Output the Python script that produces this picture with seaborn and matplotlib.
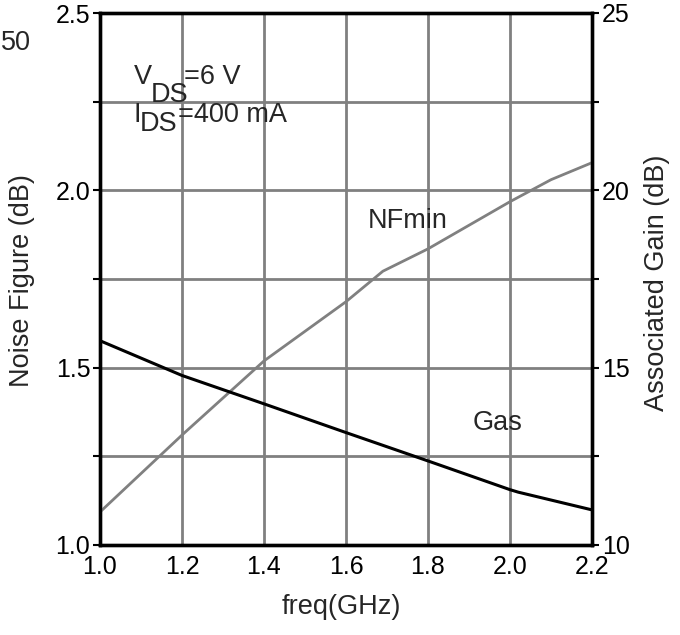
import matplotlib
matplotlib.use("Agg")
import matplotlib.pyplot as plt
import seaborn as sns
import pandas as pd
import numpy as np

sns.set_style("white")
plt.rcParams['font.family'] = ['Liberation Sans', 'DejaVu Sans']

nf_freq = [1.0, 1.2, 1.4, 1.6, 1.69, 1.8, 2.0, 2.10, 2.2]
nf_min = [1.093, 1.31, 1.519, 1.686, 1.772, 1.835, 1.968, 2.030, 2.078]

gas_freq = [1.0, 1.2, 1.4, 1.6, 1.8, 2.0, 2.02, 2.2]
gas = [15.76, 14.78, 13.98, 13.17, 12.37, 11.56, 11.49, 10.99]

x_ticks = [1.0, 1.2, 1.4, 1.6, 1.8, 2.0, 2.2]
nf_ticks = [1.0, 1.5, 2.0, 2.5]
gain_ticks = [10, 15, 20, 25]

FS = 18
FL = 19.5
W, H = 680, 635

fig = plt.figure(figsize=(6.8, 6.35), dpi=100)
ax = fig.add_axes([100/W, 1-545/H, 492/W, 532/H])
ax2 = ax.twinx()

df_nf = pd.DataFrame({"freq": nf_freq, "nf": nf_min})
df_g = pd.DataFrame({"freq": gas_freq, "gain": gas})

ax.set_xlim(1.0, 2.2)
ax.set_ylim(1.0, 2.5)
ax2.set_ylim(10, 25)

ax.set_xticks(x_ticks)
ax.set_yticks(nf_ticks)
ax.set_yticks(np.arange(1.0, 2.51, 0.25), minor=True)
ax.grid(True, which="both", axis="y", color="#808080", lw=2)
ax.grid(True, which="major", axis="x", color="#808080", lw=2)
ax.set_axisbelow(True)

sns.lineplot(data=df_nf, x="freq", y="nf", ax=ax, color="#808080", lw=2, zorder=3)
sns.lineplot(data=df_g, x="freq", y="gain", ax=ax2, color="black", lw=2.2, zorder=3)

ax2.set_yticks(gain_ticks)
ax2.set_yticks(np.arange(10, 25.1, 2.5), minor=True)

for a in (ax, ax2):
    for s in a.spines.values():
        s.set_linewidth(2.4)
        s.set_color("black")
    a.tick_params(which="both", direction="out", length=5, width=1.5,
                  colors="black", labelsize=FS, pad=2)

ax.set_xticklabels([f"{v:.1f}" for v in x_ticks])
ax.set_yticklabels([f"{v:.1f}" for v in nf_ticks])
ax2.set_yticklabels([str(v) for v in gain_ticks])

ax.set_xlabel("")
ax.set_ylabel("")
ax2.set_ylabel("")
fig.text(341/W, 1-607/H, "freq(GHz)", fontsize=FL, ha="center", va="center")
fig.text(22/W, 1-281/H, "Noise Figure (dB)", fontsize=FL, ha="center", va="center", rotation=90)
fig.text(657/W, 1-283/H, "Associated Gain (dB)", fontsize=FL, ha="center", va="center", rotation=90)

ax.text(1.75, 1.914, "NFmin", fontsize=FL, ha="center", va="center")
ax.text(1.97, 1.345, "Gas", fontsize=FL, ha="center", va="center")

def ptxt(x, y, s):
    fig.text(x/W, 1-y/H, s, fontsize=FL, ha="left", va="baseline")

ptxt(134, 84, "V")
ptxt(151, 102, "DS")
ptxt(184, 84, "=6 V")
ptxt(134, 122, "I")
ptxt(140, 131, "DS")
ptxt(178, 122, "=400 mA")
ptxt(1, 50, "50")

fig.savefig("out.png", dpi=100)
